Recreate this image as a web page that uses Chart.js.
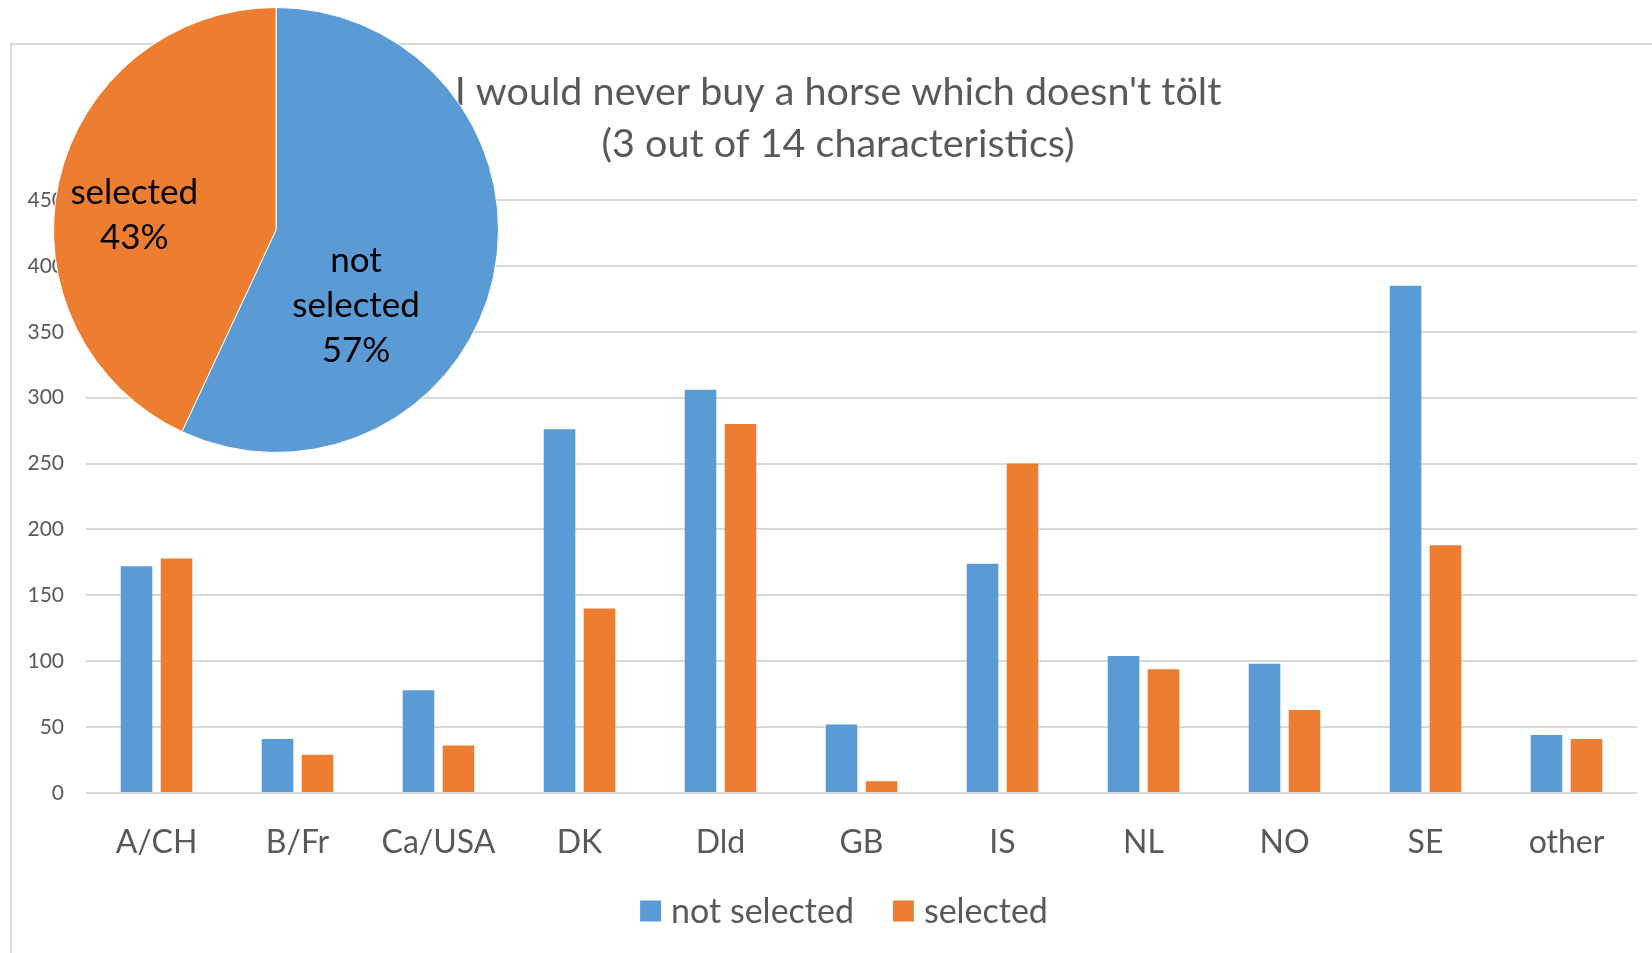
<!DOCTYPE html>
<html>
<head>
<meta charset="utf-8">
<script src="https://cdn.jsdelivr.net/npm/chart.js@4.4.0/dist/chart.umd.min.js"></script>
<style>
body { margin: 0; background: #fff; }
#wrap { position: relative; width: 1652px; height: 953px; overflow: hidden; background: #fff; }
#bar-chart { position: absolute; left: 0; top: 0; }
#pie-chart { position: absolute; left: 53px; top: 7px; }
</style>
</head>
<body>
<div id="wrap">
  <canvas id="bar-chart" width="1652" height="953"></canvas>
  <canvas id="pie-chart" width="446" height="446"></canvas>
</div>
<script>
const countries = ["A/CH", "B/Fr", "Ca/USA", "DK", "Dld", "GB", "IS", "NL", "NO", "SE", "other"];
const notSelected = [172, 41, 78, 276, 306, 52, 174, 104, 98, 385, 44];
const selected = [178, 29, 36, 140, 280, 9, 250, 94, 63, 188, 41];
const yTicks = [0, 50, 100, 150, 200, 250, 300, 350, 400, 450];
const seriesNames = ["not selected", "selected"];
const titleLines = ["I would never buy a horse which doesn't tölt", "(3 out of 14 characteristics)"];

const BLUE = '#5B9BD5';
const ORANGE = '#ED7D31';
const GREY_TEXT = '#595959';
const GRID = '#D9D9D9';
const FONT = 'Lato, "Open Sans", sans-serif';

// frame, title and legend drawn around the bar chart
const decorations = {
    id: 'decorations',
    beforeDraw(chart) {
        const ctx = chart.ctx;
        ctx.save();
        ctx.fillStyle = '#fff';
        ctx.fillRect(0, 0, chart.width, chart.height);
        ctx.strokeStyle = GRID;
        ctx.lineWidth = 2;
        ctx.strokeRect(11, 44, chart.width + 50, chart.height + 50);
        ctx.restore();
    },
    afterDraw(chart) {
        const ctx = chart.ctx;
        ctx.save();
        ctx.fillStyle = GREY_TEXT;
        ctx.textAlign = 'center';
        ctx.textBaseline = 'middle';
        ctx.font = '39.5px ' + FONT;
        titleLines.forEach((line, i) => ctx.fillText(line, 838, 92 + i * 52));

        // legend
        ctx.font = '34px ' + FONT;
        const box = 21, gap = 10, itemGap = 39;
        const widths = seriesNames.map(n => ctx.measureText(n).width);
        let total = widths.reduce((a, w) => a + box + gap + w, 0) + itemGap;
        let x = 844 - total / 2;
        const y = 911;
        ctx.textAlign = 'left';
        chart.data.datasets.forEach((ds, i) => {
            ctx.fillStyle = ds.backgroundColor;
            ctx.fillRect(x, y - box / 2, box, box);
            x += box + gap;
            ctx.fillStyle = GREY_TEXT;
            ctx.fillText(ds.label, x, y + 1);
            x += widths[i] + itemGap;
        });
        ctx.restore();
    }
};

const barChart = new Chart(document.getElementById('bar-chart'), {
    type: 'bar',
    data: {
        labels: countries,
        datasets: [
            { label: seriesNames[0], data: notSelected, backgroundColor: BLUE, borderWidth: 0 },
            { label: seriesNames[1], data: selected, backgroundColor: ORANGE, borderWidth: 0 }
        ]
    },
    options: {
        responsive: false,
        animation: false,
        layout: { padding: { left: 0, right: 15, top: 200, bottom: 90 } },
        datasets: { bar: { categoryPercentage: 0.567, barPercentage: 0.79 } },
        scales: {
            x: {
                grid: { display: false },
                border: { display: false },
                ticks: { color: GREY_TEXT, font: { family: FONT, size: 32 }, padding: 22, maxRotation: 0 },
                afterFit: s => { s.height = 70; }
            },
            y: {
                min: yTicks[0],
                max: yTicks[yTicks.length - 1],
                grid: { color: GRID, lineWidth: 2, drawTicks: false },
                border: { display: false },
                ticks: { stepSize: yTicks[1] - yTicks[0], color: GREY_TEXT, font: { family: FONT, size: 21 }, padding: 22 },
                afterFit: s => { s.width = 86; }
            }
        },
        plugins: {
            legend: { display: false },
            title: { display: false },
            tooltip: { enabled: false }
        }
    },
    plugins: [decorations]
});

// pie overlay
const sum = arr => arr.reduce((a, b) => a + b, 0);
const pieValues = [sum(notSelected), sum(selected)];
const pieTotal = sum(pieValues);

const pieLabels = {
    id: 'pieLabels',
    afterDatasetsDraw(chart, args, opts) {
        const ctx = chart.ctx;
        const arcs = chart.getDatasetMeta(0).data;
        ctx.save();
        ctx.fillStyle = '#000';
        ctx.font = '35px ' + FONT;
        ctx.textAlign = 'center';
        ctx.textBaseline = 'middle';
        arcs.forEach((arc, i) => {
            const p = arc.getProps(['x', 'y', 'outerRadius'], true);
            const pct = Math.round(pieValues[i] / pieTotal * 100) + '%';
            const lines = opts.lines[i].concat([pct]);
            const cx = p.x + opts.offsets[i][0] * p.outerRadius;
            const cy = p.y + opts.offsets[i][1] * p.outerRadius;
            const lh = 45;
            lines.forEach((l, k) => ctx.fillText(l, cx, cy + (k - (lines.length - 1) / 2) * lh));
        });
        ctx.restore();
    }
};

const pieChart = new Chart(document.getElementById('pie-chart'), {
    type: 'pie',
    data: {
        labels: seriesNames,
        datasets: [{
            data: pieValues,
            backgroundColor: [BLUE, ORANGE],
            borderColor: '#fff',
            borderWidth: 1
        }]
    },
    options: {
        responsive: false,
        animation: false,
        layout: { padding: 0 },
        plugins: {
            legend: { display: false },
            tooltip: { enabled: false },
            pieLabels: {
                lines: [["not", "selected"], ["selected"]],
                offsets: [[0.36, 0.34], [-0.637, -0.065]]
            }
        }
    },
    plugins: [pieLabels]
});
</script>
</body>
</html>
